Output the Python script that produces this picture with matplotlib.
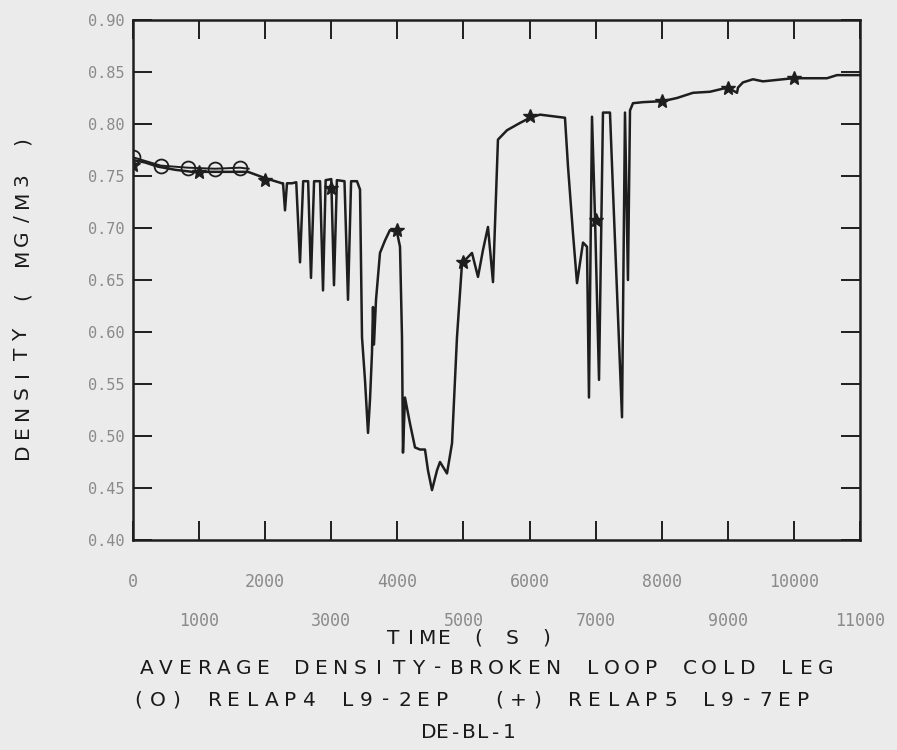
import matplotlib
matplotlib.use("Agg")
import matplotlib.pyplot as plt
from matplotlib.ticker import FixedLocator, FixedFormatter

# RELAP5 L9-7EP average density, broken loop cold leg
time_s = [30, 182, 378, 635, 893, 1135, 1392, 1740, 1997, 2254,
          2270, 2300, 2330, 2405,
          2470, 2527, 2575, 2650, 2693, 2740, 2830, 2875, 2915,
          3000, 3041, 3085, 3200, 3253, 3300, 3389,
          3435, 3465, 3510, 3556, 3586, 3616, 3631, 3646, 3677, 3737,
          3813, 3888, 3994, 4040, 4070, 4085, 4115, 4191, 4267, 4342,
          4418, 4463, 4524, 4600, 4645, 4751, 4827, 4902, 4978, 5053,
          5129, 5220, 5296, 5371, 5447, 5522, 5659, 5855, 6007, 6158,
          6536, 6582, 6657, 6718, 6809, 6869, 6899, 6945, 6990, 7051,
          7111, 7217, 7262, 7399, 7444, 7489, 7520, 7565, 7716, 8019,
          8231, 8473, 8730, 8927, 9002, 9139, 9154, 9229, 9381, 9532,
          9986, 10500, 10652, 11000]
density = [0.765, 0.763, 0.759, 0.756, 0.754, 0.754, 0.754, 0.754, 0.748, 0.743,
           0.743, 0.717, 0.743, 0.743,
           0.744, 0.667, 0.745, 0.745, 0.652, 0.745, 0.745, 0.640, 0.746,
           0.747, 0.645, 0.746, 0.745, 0.631, 0.745, 0.745,
           0.737, 0.595, 0.554, 0.503, 0.535, 0.580, 0.624, 0.588, 0.631, 0.676,
           0.688, 0.698, 0.696, 0.682, 0.595, 0.484, 0.537, 0.512, 0.489, 0.487,
           0.487, 0.467, 0.448, 0.467, 0.475, 0.464, 0.493, 0.595, 0.666, 0.671,
           0.676, 0.653, 0.679, 0.701, 0.648, 0.785, 0.794, 0.801, 0.806, 0.809,
           0.806, 0.759, 0.695, 0.647, 0.686, 0.682, 0.537, 0.807, 0.711, 0.554,
           0.811, 0.811, 0.737, 0.518, 0.811, 0.650, 0.813, 0.820, 0.821, 0.822,
           0.825, 0.830, 0.831, 0.834, 0.835, 0.830, 0.835, 0.840, 0.843, 0.841,
           0.844, 0.844, 0.847, 0.847]

# star markers on the RELAP5 curve
star_time = [0, 1000, 2000, 3000, 4000, 5000, 6000, 7000, 8000, 9000, 10000]
star_density = [0.761, 0.754, 0.746, 0.738, 0.698, 0.667, 0.808, 0.708, 0.822, 0.835, 0.844]

# RELAP4 L9-2EP (circles)
r4_time = [0, 420, 830, 1240, 1620, 1750]
r4_density = [0.768, 0.760, 0.758, 0.757, 0.758, 0.757]

even_ticks = [0, 2000, 4000, 6000, 8000, 10000]
odd_ticks = [1000, 3000, 5000, 7000, 9000, 11000]
y_ticks = [0.40, 0.45, 0.50, 0.55, 0.60, 0.65, 0.70, 0.75, 0.80, 0.85, 0.90]

W, H = 897, 750
BG = "#ebebeb"
INK = "#1e1e1e"
MONO = "DejaVu Sans Mono"


def spaced_text(fig, s, xc, yc, pitch, rotation=0, **kw):
    """Plotter-style text: one character per fixed pitch (pixels)"""
    n = len(s)
    start = -(n - 1) / 2.0 * pitch
    for i, ch in enumerate(s):
        off = start + i * pitch
        if rotation == 90:
            x, y = xc, yc - off
        else:
            x, y = xc + off, yc
        fig.text(x / W, 1 - y / H, ch, ha="center", va="center",
                 rotation=rotation, **kw)


fig = plt.figure(figsize=(W / 100, H / 100), dpi=100, facecolor=BG)
ax = fig.add_axes([133 / W, 1 - 540 / H, (860 - 133) / W, (540 - 20) / H])
ax.set_facecolor(BG)

ax.plot(time_s, density, color=INK, linewidth=1.8)
ax.plot(star_time, star_density, linestyle="none", marker="*", markersize=10,
        color=INK)
ax.plot(r4_time, r4_density, color=INK, linewidth=1.4, marker="o",
        markersize=10, markerfacecolor="none", markeredgewidth=1.3,
        markevery=[0, 1, 2, 3, 4])

ax.set_xlim(0, 11000)
ax.set_ylim(0.40, 0.90)

ax.xaxis.set_major_locator(FixedLocator(even_ticks))
ax.xaxis.set_major_formatter(FixedFormatter([str(t) for t in even_ticks]))
ax.xaxis.set_minor_locator(FixedLocator(odd_ticks))
ax.xaxis.set_minor_formatter(FixedFormatter([str(t) for t in odd_ticks]))
ax.set_yticks(y_ticks)
ax.set_yticklabels([f"{v:.2f}" for v in y_ticks])

ax.tick_params(axis="both", which="both", direction="in", length=14, width=1.4,
               color=INK, top=True, right=True, labelcolor="#8a8a8a")
ax.tick_params(axis="x", which="major", pad=24, labelsize=12)
ax.tick_params(axis="x", which="minor", pad=52, labelsize=12)
ax.tick_params(axis="y", pad=6, labelsize=11)
for lab in ax.get_xticklabels(which="both") + ax.get_yticklabels():
    lab.set_family(MONO)

for sp in ax.spines.values():
    sp.set_color(INK)
    sp.set_linewidth(1.8)

txt = dict(family="DejaVu Sans", fontsize=14.5, color="#1a1a1a")
spaced_text(fig, "TIME ( S )", 470, 638, 17, **txt)
spaced_text(fig, "AVERAGE DENSITY-BROKEN LOOP COLD LEG", 486, 668, 19.4, **txt)
spaced_text(fig, "(O) RELAP4 L9-2EP  (+) RELAP5 L9-7EP", 471, 700, 19, **txt)
spaced_text(fig, "DE-BL-1", 469, 733, 13.5, **txt)
spaced_text(fig, "DENSITY ( MG/M3 )", 22, 296, 19.4, rotation=90, **txt)

fig.savefig("out.png", dpi=100, facecolor=BG)
plt.close(fig)
